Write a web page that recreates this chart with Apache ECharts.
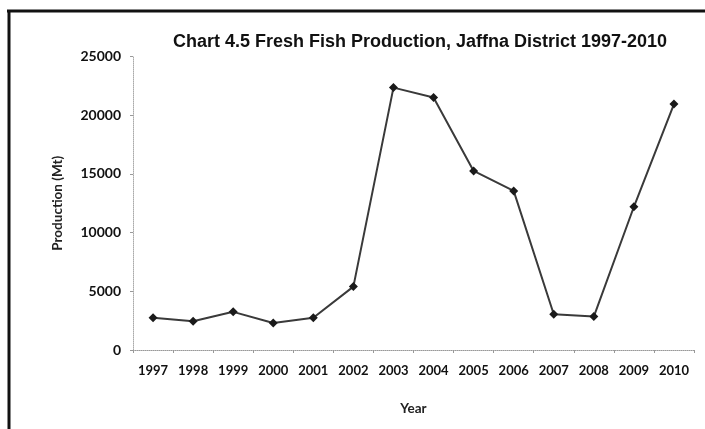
<!DOCTYPE html>
<html>
<head>
<meta charset="utf-8">
<script src="https://cdn.jsdelivr.net/npm/echarts@6/dist/echarts.min.js"></script>
<style>html,body{margin:0;padding:0;background:#fff;}#c{width:705px;height:429px;}</style>
</head>
<body>
<div id="c"></div>
<script>
const years = ['1997','1998','1999','2000','2001','2002','2003','2004','2005','2006','2007','2008','2009','2010'];
const production = [2750, 2450, 3250, 2300, 2750, 5400, 22350, 21500, 15250, 13550, 3050, 2850, 12200, 20950];
const titleText = 'Chart 4.5 Fresh Fish Production, Jaffna District 1997-2010';
const yAxisName = 'Production (Mt)';
const xAxisName = 'Year';

const chart = echarts.init(document.getElementById('c'), null, {renderer: 'canvas'});
chart.setOption({
  backgroundColor: '#fff',
  animation: false,
  title: {
    text: titleText,
    left: 415, top: 28, textAlign: 'center',
    textStyle: {fontFamily: 'Liberation Sans', fontWeight: 'bold', fontSize: 18, color: '#111'}
  },
  grid: {left: 133, right: 11, top: 56.5, bottom: 79},
  xAxis: {
    type: 'category', data: years, boundaryGap: true,
    name: xAxisName, nameLocation: 'middle', nameGap: 52,
    nameTextStyle: {fontFamily: 'Lato', fontWeight: 'bold', fontSize: 13.5, color: '#222'},
    axisLine: {lineStyle: {color: '#999', type: 'dotted', width: 1}},
    axisTick: {show: true, length: 3, lineStyle: {color: '#999'}},
    axisLabel: {fontFamily: 'Lato', fontWeight: 'bold', fontSize: 13, color: '#111', margin: 14}
  },
  yAxis: {
    type: 'value', min: 0, max: 25000, interval: 5000,
    name: yAxisName, nameLocation: 'middle', nameGap: 68, nameRotate: 90,
    nameTextStyle: {fontFamily: 'Lato', fontWeight: 'bold', fontSize: 13.5, color: '#222'},
    axisLine: {show: true, lineStyle: {color: '#aaa', type: 'dotted', width: 1}},
    axisTick: {show: true, length: 3, lineStyle: {color: '#999'}},
    splitLine: {show: false},
    axisLabel: {fontFamily: 'Lato', fontWeight: 'bold', fontSize: 14, color: '#111', margin: 12,
      formatter: v => String(v)}
  },
  series: [{
    type: 'line', data: production,
    symbol: 'diamond', symbolSize: 9,
    itemStyle: {color: '#1a1a1a'},
    lineStyle: {color: '#3a3a3a', width: 2}
  }],
  graphic: [
    {type: 'line', shape: {x1: 7, y1: 11, x2: 705, y2: 11}, style: {stroke: '#111', lineWidth: 3}},
    {type: 'line', shape: {x1: 9, y1: 10, x2: 9, y2: 429}, style: {stroke: '#111', lineWidth: 3}}
  ]
});
</script>
</body>
</html>
